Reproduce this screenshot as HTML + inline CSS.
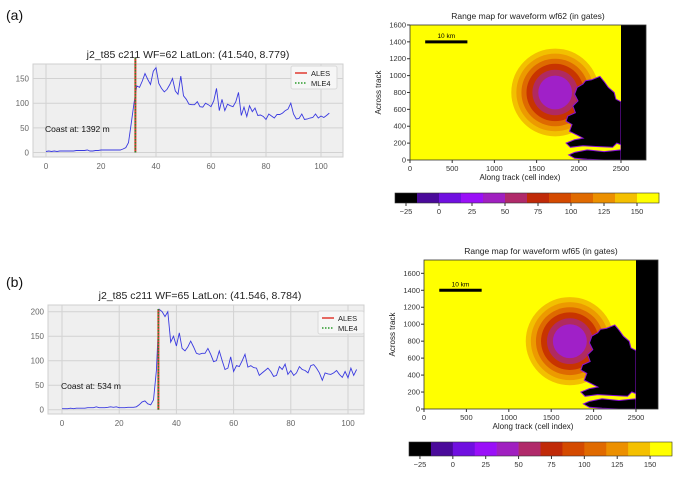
<!DOCTYPE html>
<html><head><meta charset="utf-8">
<style>
html,body{margin:0;padding:0;background:#fff;}
svg{display:block;font-family:"Liberation Sans",sans-serif;}
</style></head>
<body>
<svg id="fig" width="680" height="479" viewBox="0 0 680 479"></svg>
<script>
// ---- data ----
const xTicksA = [0,20,40,60,80,100];
const yTicksA = [0,50,100,150];
const seriesA = [2,3,2,3,2,3,3,3,3,3,3,4,4,4,4,5,3,3,4,4,5,5,5,5,5,5,5,5,7,10,20,60,100,135,132,145,160,148,138,165,172,140,130,123,128,138,150,125,118,155,115,108,98,97,97,103,93,92,100,97,93,105,130,85,108,85,98,95,93,103,122,75,92,73,95,83,90,75,76,73,67,78,74,70,77,77,80,85,88,100,78,68,69,78,67,68,70,71,78,70,74,71,75,80];
const coastA = [32.5];
const xTicksB = [0,20,40,60,80,100];
const yTicksB = [0,50,100,150,200];
const seriesB = [2,2,2,3,2,3,3,3,3,4,4,4,6,4,4,4,5,6,5,6,4,4,4,5,5,5,6,10,16,18,12,10,20,80,205,200,190,200,138,150,130,157,125,120,128,140,128,115,113,115,115,125,113,98,100,120,100,82,85,108,78,90,88,100,113,87,90,86,85,70,75,80,85,78,68,70,88,82,93,72,80,70,75,88,82,80,75,90,92,85,75,60,75,73,72,75,80,72,66,78,65,85,70,82];
const coastB = [33.7];
const cbTicks = [-25,0,25,50,75,100,125,150];
const cbColors = ["#000000","#4a0a9a","#7010e0","#9a10f8","#a020c0","#b02a6a","#c02a08","#d44a00","#e06a00","#ec9000","#f4c000","#ffff00"];
const ringColors = ["#f2c000","#ec9a00","#de6a00","#c83400","#b02a60","#a020c8"];

const NS="http://www.w3.org/2000/svg";
const svg=document.getElementById('fig');
function mk(tag,attrs,parent){const e=document.createElementNS(NS,tag);for(const k in attrs)e.setAttribute(k,attrs[k]);(parent||svg).appendChild(e);return e;}
function txt(s,x,y,size,fill,anchor,parent){const t=mk('text',{x:x,y:y,'font-size':size,fill:fill,'text-anchor':anchor||'start'},parent);t.textContent=s;return t;}

function linePanel(cfg){
  const g=mk('g',{});
  
  
  const sx=v=>cfg.x0+(v-0)*(cfg.x100-cfg.x0)/100;
  const sy=v=>cfg.y0-v*cfg.ky;
  const bg=mk('rect',{x:cfg.L,y:cfg.T,width:cfg.R-cfg.L,height:cfg.B-cfg.T,fill:'#efefef',stroke:'#cfcfcf'},g);
  
  
  cfg.xt.forEach(v=>{
    const gl=mk('line',{x1:sx(v),x2:sx(v),y1:cfg.T,y2:cfg.B,stroke:'#d2d2d2','stroke-width':1},g);
    
    
    const t=txt(String(v),sx(v),cfg.B+12,8,'#666','middle',g);
    
    
  });
  cfg.yt.forEach(v=>{
    const gl=mk('line',{x1:cfg.L,x2:cfg.R,y1:sy(v),y2:sy(v),stroke:'#d2d2d2','stroke-width':1},g);
    
    
    const t=txt(String(v),cfg.L-4,sy(v)+3,8,'#666','end',g);
    
    
  });
  const pts=cfg.data.map((v,i)=>sx(i).toFixed(1)+','+sy(v).toFixed(1)).join(' ');
  const pl=mk('polyline',{points:pts,fill:'none',stroke:'#3a3ae0','stroke-width':0.9},g);
  
  
  const cx=sx(cfg.coast[0]);
  const r=mk('line',{x1:cx,x2:cx,y1:cfg.topLine,y2:sy(0),stroke:'#e03a30','stroke-width':2},g);
  
  
  const m=mk('line',{x1:cx,x2:cx,y1:cfg.topLine,y2:sy(0),stroke:'#2a8a2a','stroke-width':1.5,'stroke-dasharray':'1.5,1.5'},g);
  
  
  const ct=txt(cfg.coastText,sx(0)-1,sy(50)+4,8.5,'#111','start',g);
  
  
  const tt=txt(cfg.title,cfg.tx,cfg.T-6,10.5,'#222','middle',g);
  
  
  const lg=mk('g',{},g);
  
  
  mk('rect',{x:cfg.lx,y:cfg.ly,width:46,height:23,fill:'#f6f6f6',stroke:'#d8d8d8',rx:2},lg);
  mk('line',{x1:cfg.lx+4,x2:cfg.lx+16,y1:cfg.ly+7,y2:cfg.ly+7,stroke:'#e03a30','stroke-width':1.5},lg);
  txt('ALES',cfg.lx+20,cfg.ly+10,7.5,'#222','start',lg);
  mk('line',{x1:cfg.lx+4,x2:cfg.lx+16,y1:cfg.ly+17,y2:cfg.ly+17,stroke:'#2a9a2a','stroke-width':1.5,'stroke-dasharray':'1.5,1.5'},lg);
  txt('MLE4',cfg.lx+20,cfg.ly+20,7.5,'#222','start',lg);
}

linePanel({name:'waveform-chart-a',L:33,R:343,T:64,B:157,x0:46,x100:321,y0:152.5,ky:0.493,xt:xTicksA,yt:yTicksA,data:seriesA,coast:coastA,topLine:58,coastText:'Coast at: 1392 m',title:'j2_t85 c211 WF=62 LatLon: (41.540, 8.779)',tx:188,lx:291,ly:66});
linePanel({name:'waveform-chart-b',L:48,R:364,T:305,B:414,x0:62,x100:348,y0:409.7,ky:0.49,xt:xTicksB,yt:yTicksB,data:seriesB,coast:coastB,topLine:309,coastText:'Coast at: 534 m',title:'j2_t85 c211 WF=65 LatLon: (41.546, 8.784)',tx:200,lx:318,ly:311});

const la=txt('(a)',6,20,14,'#111');
const lb=txt('(b)',6,287,14,'#111');

function mapPanel(cfg){
  const g=mk('g',{});
  
  
  const sx=v=>cfg.L+v*cfg.k;
  const sy=v=>cfg.B-v*cfg.k;
  const clipId=cfg.name+'-clip';
  const cp=mk('clipPath',{id:clipId},g);
  mk('rect',{x:cfg.L,y:cfg.T,width:cfg.R-cfg.L,height:cfg.B-cfg.T},cp);
  const pg=mk('g',{'clip-path':'url(#'+clipId+')'},g);
  mk('rect',{x:cfg.L,y:cfg.T,width:cfg.R-cfg.L,height:cfg.B-cfg.T,fill:'#ffff00'},pg);
  const cx=sx(1720),cy=sy(800);
  const radii=[520,460,400,340,270,200];
  radii.forEach((r,i)=>{
    const c=mk('circle',{cx:cx,cy:cy,r:r*cfg.k,fill:ringColors[i]},pg);
    
    
  });
  const land=[[2500,0],[2500,690],[2440,720],[2420,800],[2350,860],[2300,930],[2250,990],[2150,950],[2080,940],[2050,900],[1980,860],[1950,780],[1990,700],[1930,640],[1960,560],[1870,520],[1850,460],[1920,420],[1890,340],[1970,300],[2050,260],[1950,240],[1850,200],[1900,150],[2050,170],[2200,160],[2400,150],[2450,200],[2500,180],[2500,120],[2300,100],[2100,120],[1950,90],[1880,60],[1950,20],[2100,10],[2300,0]];
  const d=land.map((p,i)=>(i?'L':'M')+sx(p[0]).toFixed(1)+','+sy(p[1]).toFixed(1)).join(' ')+'Z';
  const lp=mk('path',{d:d,fill:'#000',stroke:'#8a10d8','stroke-width':1},pg);
  
  
  const br=mk('rect',{x:sx(2500),y:cfg.T,width:cfg.R-sx(2500),height:cfg.B-cfg.T,fill:'#000'},pg);
  
  
  mk('rect',{x:cfg.L,y:cfg.T,width:cfg.R-cfg.L,height:cfg.B-cfg.T,fill:'none',stroke:'#333','stroke-width':0.8},g);
  const sb=mk('line',{x1:sx(180),x2:sx(680),y1:sy(1400),y2:sy(1400),stroke:'#000','stroke-width':3},g);
  
  
  txt('10 km',sx(430),sy(1400)-4,6.5,'#000','middle',g);
  [0,500,1000,1500,2000,2500].forEach(v=>{
    mk('line',{x1:sx(v),x2:sx(v),y1:cfg.B,y2:cfg.B+3,stroke:'#333'},g);
    const t=txt(String(v),sx(v),cfg.B+11,7.5,'#333','middle',g);
    
    
  });
  [0,200,400,600,800,1000,1200,1400,1600].forEach(v=>{
    mk('line',{x1:cfg.L-3,x2:cfg.L,y1:sy(v),y2:sy(v),stroke:'#333'},g);
    const t=txt(String(v),cfg.L-4,sy(v)+2.5,7.5,'#333','end',g);
    
    
  });
  const xt=txt('Along track (cell index)',(cfg.L+cfg.R)/2-8,cfg.B+20,8,'#222','middle',g);
  
  
  const yt=txt('Across track',0,0,8,'#222','middle',g);
  yt.setAttribute('transform','translate('+(cfg.L-29)+','+((cfg.T+cfg.B)/2)+') rotate(-90)');
  
  
  const tt=txt(cfg.title,(cfg.L+cfg.R)/2,cfg.T-6,8.5,'#222','middle',g);
  
  
  const cb=mk('g',{},g);
  
  
  const n=cbColors.length,w=(cfg.cbR-cfg.cbL)/n;
  const vmin=-100/3,vmax=500/3;
  const cxv=v=>cfg.cbL+(v-vmin)/(vmax-vmin)*(cfg.cbR-cfg.cbL);
  cbColors.forEach((c,i)=>{
    const r=mk('rect',{x:cfg.cbL+i*w,y:cfg.cbT,width:w+0.3,height:cfg.cbH,fill:c},cb);
    
    
  });
  mk('rect',{x:cfg.cbL,y:cfg.cbT,width:cfg.cbR-cfg.cbL,height:cfg.cbH,fill:'none',stroke:'#333','stroke-width':0.6},cb);
  cbTicks.forEach(v=>{
    mk('line',{x1:cxv(v),x2:cxv(v),y1:cfg.cbT+cfg.cbH,y2:cfg.cbT+cfg.cbH+3,stroke:'#333'},cb);
    const t=txt(String(v).replace('-','\u2212'),cxv(v),cfg.cbT+cfg.cbH+11,7.5,'#333','middle',cb);
    
    
  });
}
mapPanel({name:'range-map-a',L:410,R:646,T:25,B:160,k:0.0844,title:'Range map for waveform wf62 (in gates)',cbL:395,cbR:659,cbT:193,cbH:10});
mapPanel({name:'range-map-b',L:424,R:658,T:260,B:409,k:0.0848,title:'Range map for waveform wf65 (in gates)',cbL:409,cbR:672,cbT:442,cbH:14});
</script>
</body></html>
